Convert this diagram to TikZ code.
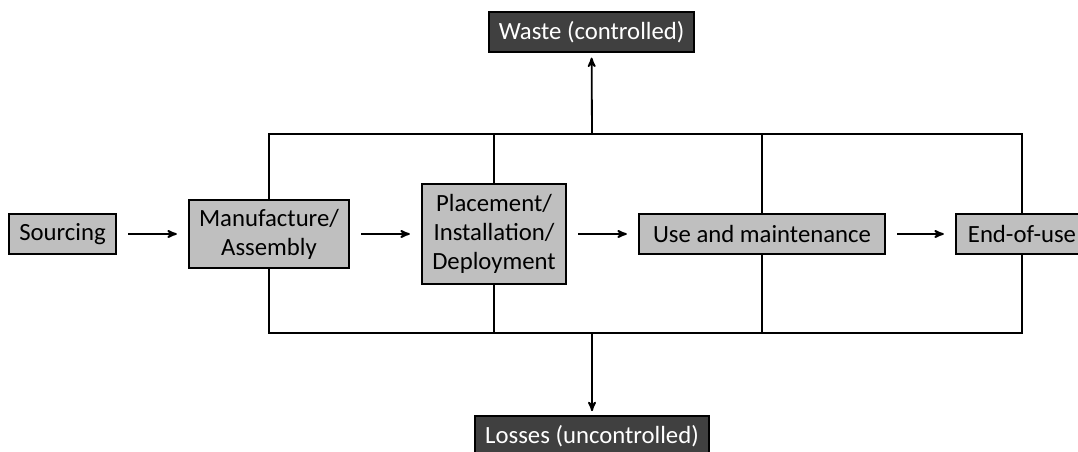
\documentclass[tikz,border=0pt]{standalone}
\usepackage{fontspec}
\setmainfont{Carlito}
\usepackage{xcolor}
\usepackage{tikz}
\usetikzlibrary{
    arrows
}
\definecolor{boxgray}{RGB}{191,191,191}
\definecolor{darkbox}{RGB}{64,64,64}

\begin{document}
\begin{tikzpicture}[->,>=stealth',semithick,line width=1.3pt]
    \tikzstyle{stage}=[draw=black, line width=1.4pt, fill=boxgray, align=center, inner sep=0pt, font=\fontsize{17.6}{20.6}\selectfont]
    \tikzstyle{outflow}=[draw=black, line width=1.2pt, fill=darkbox, text=white, align=center, inner sep=0pt, minimum height=1cm, font=\fontsize{17.6}{20.6}\selectfont]
    \tikzstyle{flow}=[shorten <=0.28cm, shorten >=0.28cm]
    \tikzstyle{bus}=[-]

    \useasboundingbox (0,0) rectangle (26.95,11.3);

    \node[stage, minimum width=2.675cm, minimum height=1cm] (SRC) at (1.5625, 5.45) {Sourcing};
    \node[stage, minimum width=4cm, minimum height=1.7cm] (MAN) at (6.725, 5.45) {Manufacture/\\Assembly};
    \node[stage, minimum width=3.6cm, minimum height=2.5cm] (PLC) at (12.35, 5.45) {Placement/\\Installation/\\Deployment};
    \node[stage, minimum width=6.15cm, minimum height=1cm] (USE) at (19.05, 5.45) {Use and maintenance};
    \node[stage, minimum width=3.3cm, minimum height=1cm] (EOU) at (25.55, 5.45) {End-of-use};
    \node[outflow, minimum width=5.125cm] (W) at (14.79, 10.5) {Waste (controlled)};
    \node[outflow, minimum width=5.85cm] (L) at (14.8, 0.4) {Losses (uncontrolled)};
    \coordinate (TOP) at (14.8, 7.95);
    \coordinate (BOT) at (14.8, 2.975);

    \path (SRC) edge[flow] (MAN);
    \path (MAN) edge[flow] (PLC);
    \path (PLC) edge[flow] (USE);
    \path (USE) edge[flow] (EOU);

    % collecting lines above and below the stages
    \draw[bus] (MAN.north) -- (MAN.north |- TOP) -- (EOU.north |- TOP) -- (EOU.north);
    \draw[bus] (PLC.north) -- (PLC.north |- TOP);
    \draw[bus] (USE.north) -- (USE.north |- TOP);
    \draw[bus] (MAN.south) -- (MAN.south |- BOT) -- (EOU.south |- BOT) -- (EOU.south);
    \draw[bus] (PLC.south) -- (PLC.south |- BOT);
    \draw[bus] (USE.south) -- (USE.south |- BOT);

    \path (TOP) edge[shorten >=0.12cm] (W.south);
    \path (BOT) edge[shorten >=0.1cm] (L.north);
\end{tikzpicture}
\end{document}
